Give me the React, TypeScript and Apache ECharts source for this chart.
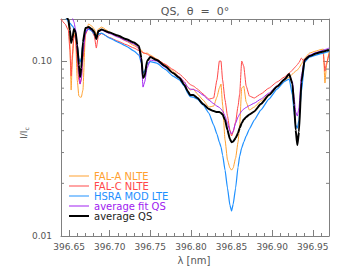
import React, { useEffect, useRef } from "react";
import * as echarts from "echarts";

const wavelength = [
  396.640, 396.645, 396.649, 396.651, 396.6525, 396.654, 396.656, 396.658, 396.660, 396.662,
  396.6635, 396.665, 396.667, 396.670, 396.674, 396.678, 396.681, 396.6835, 396.686, 396.690,
  396.700, 396.710, 396.720, 396.730, 396.736, 396.739, 396.741, 396.743, 396.746, 396.750,
  396.758, 396.768, 396.778, 396.786, 396.792, 396.796, 396.799, 396.803, 396.808, 396.815,
  396.822, 396.828, 396.832, 396.835, 396.837, 396.839, 396.842, 396.845, 396.848, 396.850,
  396.852, 396.855, 396.858, 396.860, 396.8625, 396.865, 396.868, 396.872, 396.878, 396.886,
  396.896, 396.906, 396.915, 396.921, 396.925, 396.927, 396.929, 396.931, 396.933, 396.936,
  396.940, 396.946, 396.954, 396.960, 396.963, 396.965, 396.967, 396.970,
];

const falA = [
  0.1956, 0.1856, 0.1715, 0.1234, 0.0683, 0.1013, 0.1465, 0.1318, 0.0779, 0.0631,
  0.0622, 0.0622, 0.0683, 0.1408, 0.163, 0.1585, 0.1524, 0.1408, 0.1524, 0.1564,
  0.1465, 0.138, 0.1301, 0.1226, 0.1179, 0.1156, 0.1111, 0.1104, 0.1111, 0.1082,
  0.1027, 0.0955, 0.0877, 0.081, 0.0759, 0.071, 0.0683, 0.0692, 0.0648, 0.0599,
  0.0546, 0.0553, 0.0622, 0.0701, 0.0739, 0.0561, 0.0354, 0.0272, 0.0245, 0.0238,
  0.0245, 0.0279, 0.0344, 0.0431, 0.0701, 0.072, 0.0583, 0.0525, 0.0546, 0.0591,
  0.0648, 0.071, 0.0774, 0.081, 0.0843, 0.086, 0.0877, 0.0888, 0.0912, 0.0961,
  0.104, 0.1111, 0.1141, 0.1164, 0.1171, 0.0749, 0.0949, 0.1126,
];

const falC = [
  0.1738, 0.163, 0.1504, 0.1156, 0.0821, 0.1082, 0.1408, 0.1353, 0.0987, 0.0779,
  0.0739, 0.0779, 0.1013, 0.1427, 0.1544, 0.1484, 0.139, 0.1187, 0.139, 0.1436,
  0.1362, 0.1301, 0.1242, 0.1187, 0.1148, 0.1133, 0.1118, 0.1111, 0.1096, 0.1068,
  0.102, 0.0961, 0.0894, 0.0843, 0.0795, 0.0759, 0.0734, 0.072, 0.0692, 0.0648,
  0.0606, 0.0615, 0.0779, 0.1, 0.1, 0.0779, 0.0599, 0.0485, 0.0403, 0.0373,
  0.0393, 0.0448, 0.0553, 0.0648, 0.1, 0.0936, 0.072, 0.0631, 0.0615, 0.0648,
  0.0701, 0.0759, 0.081, 0.0854, 0.0888, 0.0912, 0.093, 0.0955, 0.098, 0.104,
  0.0987, 0.1068, 0.1104, 0.1141, 0.1096, 0.0877, 0.0974, 0.1096,
];

const hsra = [
  0.1905, 0.1784, 0.1692, 0.165, 0.1617, 0.1585, 0.1544, 0.1445, 0.1234, 0.104,
  0.0987, 0.104, 0.1267, 0.1484, 0.1524, 0.1484, 0.1427, 0.1371, 0.1427, 0.1445,
  0.1353, 0.1284, 0.1218, 0.1141, 0.1082, 0.0974, 0.0854, 0.0877, 0.0961, 0.0993,
  0.0974, 0.09, 0.0821, 0.0779, 0.072, 0.0656, 0.0627, 0.0622, 0.0606, 0.0561,
  0.0505, 0.0431, 0.0383, 0.0344, 0.0323, 0.029, 0.0238, 0.0188, 0.015, 0.0139,
  0.0152, 0.0188, 0.0248, 0.0286, 0.0319, 0.0344, 0.0373, 0.0409, 0.046, 0.0525,
  0.0606, 0.0692, 0.0764, 0.0789, 0.0639, 0.0511, 0.0431, 0.0414, 0.046, 0.0665,
  0.0987, 0.1054, 0.1082, 0.1104, 0.1111, 0.1118, 0.1126, 0.1133,
];

const fitQS = [
  0.209, 0.201, 0.1905, 0.1856, 0.181, 0.176, 0.167, 0.1504, 0.1156, 0.0865,
  0.0739, 0.08, 0.1126, 0.1445, 0.1544, 0.1504, 0.1445, 0.1336, 0.1465, 0.1504,
  0.1436, 0.1371, 0.1309, 0.1251, 0.1187, 0.0987, 0.071, 0.0759, 0.0912, 0.1013,
  0.1, 0.0924, 0.0854, 0.081, 0.0759, 0.071, 0.0692, 0.0688, 0.0674, 0.0639,
  0.0599, 0.0571, 0.0553, 0.0543, 0.0532, 0.0518, 0.0485, 0.0442, 0.0398, 0.0383,
  0.0398, 0.0442, 0.0479, 0.0498, 0.0518, 0.0532, 0.0543, 0.0557, 0.0575, 0.0606,
  0.0656, 0.072, 0.0789, 0.0832, 0.0759, 0.0622, 0.0511, 0.0485, 0.0539, 0.0821,
  0.1027, 0.1082, 0.1118, 0.1141, 0.1156, 0.1164, 0.1171, 0.1187,
];

const avgQS = [
  0.201, 0.188, 0.1715, 0.1504, 0.1267, 0.1353, 0.1524, 0.1465, 0.1234, 0.0949,
  0.081, 0.0912, 0.1284, 0.1544, 0.1564, 0.1524, 0.1465, 0.1336, 0.1484, 0.1514,
  0.1455, 0.14, 0.1336, 0.1276, 0.1218, 0.104, 0.08, 0.0821, 0.1, 0.1054,
  0.1013, 0.0936, 0.0854, 0.08, 0.0729, 0.0674, 0.0639, 0.0639, 0.0615, 0.0568,
  0.0532, 0.0518, 0.0511, 0.0511, 0.0505, 0.0495, 0.046, 0.0403, 0.0358, 0.0344,
  0.0347, 0.0363, 0.0388, 0.0414, 0.0442, 0.0463, 0.0479, 0.0495, 0.0515, 0.0568,
  0.0639, 0.0715, 0.0784, 0.0843, 0.0739, 0.0561, 0.0403, 0.0331, 0.0393, 0.0759,
  0.1013, 0.1068, 0.1104, 0.1126, 0.1133, 0.1141, 0.1148, 0.1156,
];

const seriesNames = ["FAL-A NLTE", "FAL-C NLTE", "HSRA MOD LTE", "average fit QS", "average QS"];

const xMajorTicks = [396.65, 396.7, 396.75, 396.8, 396.85, 396.9, 396.95];
const xMinorTicks = [
  396.66, 396.67, 396.68, 396.69, 396.71, 396.72, 396.73, 396.74, 396.76, 396.77,
  396.78, 396.79, 396.81, 396.82, 396.83, 396.84, 396.86, 396.87, 396.88, 396.89,
  396.91, 396.92, 396.93, 396.94, 396.96,
];
const yMinorTicks = [0.02, 0.03, 0.04, 0.05, 0.06, 0.07, 0.08, 0.09];

const X_MIN = 396.64;
const X_MAX = 396.97;
const Y_MIN = 0.01;
const Y_MAX = 0.174;

const COLORS = ["#FFA030", "#FF4848", "#1E90FF", "#A020F0", "#000000"];
const WIDTHS = [1, 1, 1.2, 1, 2];
const AXIS_COLOR = "#808080";
const TEXT_COLOR = "#555555";
const FONT = "DejaVu Sans";

export default function App() {
  const ref = useRef<HTMLDivElement>(null);

  useEffect(() => {
    if (!ref.current) return;
    const chart = echarts.init(ref.current, null, { renderer: "svg" });
    const values = [falA, falC, hsra, fitQS, avgQS];

    const xAxisBase = {
      type: "value" as const,
      min: X_MIN,
      max: X_MAX,
      splitLine: { show: false },
    };
    const yAxisBase = {
      type: "log" as const,
      logBase: 10,
      min: Y_MIN,
      max: Y_MAX,
      splitLine: { show: false },
      minorTick: { show: false },
    };

    chart.setOption({
      animation: false,
      grid: { left: 61, top: 19, width: 268, height: 217, containLabel: false },
      xAxis: [
        {
          ...xAxisBase,
          position: "bottom",
          axisLine: { show: true, lineStyle: { color: AXIS_COLOR, width: 1 } },
          axisTick: { show: true, inside: true, length: 6, customValues: xMajorTicks, lineStyle: { color: AXIS_COLOR } },
          axisLabel: {
            show: true,
            customValues: xMajorTicks,
            formatter: (v: number) => v.toFixed(2),
            fontSize: 9,
            color: TEXT_COLOR,
            fontFamily: FONT,
            margin: 6,
          },
        },
        {
          ...xAxisBase,
          position: "bottom",
          axisLine: { show: false },
          axisTick: { show: true, inside: true, length: 3, customValues: xMinorTicks, lineStyle: { color: AXIS_COLOR } },
          axisLabel: { show: false },
        },
        {
          ...xAxisBase,
          position: "top",
          axisLine: { show: true, lineStyle: { color: AXIS_COLOR, width: 1 } },
          axisTick: { show: true, inside: true, length: 6, customValues: xMajorTicks, lineStyle: { color: AXIS_COLOR } },
          axisLabel: { show: false },
        },
        {
          ...xAxisBase,
          position: "top",
          axisLine: { show: false },
          axisTick: { show: true, inside: true, length: 3, customValues: xMinorTicks, lineStyle: { color: AXIS_COLOR } },
          axisLabel: { show: false },
        },
      ],
      yAxis: [
        {
          ...yAxisBase,
          position: "left",
          axisLine: { show: true, lineStyle: { color: AXIS_COLOR, width: 1 } },
          axisTick: { show: true, inside: true, length: 6, lineStyle: { color: AXIS_COLOR } },
          axisLabel: {
            show: true,
            formatter: (v: number) => v.toFixed(2),
            fontSize: 9,
            color: TEXT_COLOR,
            fontFamily: FONT,
            margin: 9,
            showMaxLabel: false,
          },
        },
        {
          ...yAxisBase,
          position: "right",
          axisLine: { show: true, lineStyle: { color: AXIS_COLOR, width: 1 } },
          axisTick: { show: true, inside: true, length: 6, lineStyle: { color: AXIS_COLOR } },
          axisLabel: { show: false },
        },
      ],
      legend: {
        orient: "vertical",
        left: 69,
        top: 171,
        padding: 0,
        itemWidth: 20,
        itemHeight: 9.5,
        itemGap: 0,
        selectedMode: false,
        textStyle: { fontSize: 10, fontFamily: FONT },
        data: seriesNames.map((name, i) => ({
          name,
          icon: i === 4 ? "path://M0,0L20,0L20,2L0,2Z" : "path://M0,0L20,0L20,1L0,1Z",
          textStyle: { color: i === 4 ? "#222222" : COLORS[i] },
        })),
      },
      graphic: [
        {
          type: "text",
          x: 195,
          y: 11,
          style: {
            text: "QS,  θ  =  0°",
            fontSize: 11,
            fontFamily: FONT,
            fill: TEXT_COLOR,
            textAlign: "center",
            textVerticalAlign: "middle",
          },
        },
        {
          type: "text",
          x: 194,
          y: 260,
          style: {
            text: "λ [nm]",
            fontSize: 10,
            fontFamily: FONT,
            fill: TEXT_COLOR,
            textAlign: "center",
            textVerticalAlign: "middle",
          },
        },
        {
          type: "text",
          x: 24,
          y: 133,
          rotation: Math.PI / 2,
          style: {
            text: "I/I{c|c}",
            fontSize: 9,
            fontFamily: FONT,
            fill: TEXT_COLOR,
            textAlign: "center",
            textVerticalAlign: "middle",
            rich: {
              c: { fontSize: 6, fontFamily: FONT, fill: TEXT_COLOR, padding: [4, 0, 0, 0] },
            },
          },
        },
      ],
      series: [
        ...seriesNames.map((name, i) => ({
          name,
          type: "line",
          xAxisIndex: 0,
          yAxisIndex: 0,
          data: wavelength.map((w, k) => [w, values[i][k]]),
          symbol: "none",
          showSymbol: false,
          smooth: 0.15,
          smoothMonotone: "x",
          clip: true,
          color: COLORS[i],
          lineStyle: { color: COLORS[i], width: WIDTHS[i] },
          z: 2 + i,
        })),
        {
          name: "yMinorTicks",
          type: "custom",
          xAxisIndex: 0,
          yAxisIndex: 0,
          silent: true,
          clip: false,
          z: 10,
          data: yMinorTicks.map((v) => [X_MIN, v]),
          renderItem: (_params: any, api: any) => {
            const v = api.value(1);
            const a = api.coord([X_MIN, v]);
            const b = api.coord([X_MAX, v]);
            return {
              type: "group",
              children: [
                { type: "line", shape: { x1: a[0], y1: a[1], x2: a[0] + 3, y2: a[1] }, style: { stroke: AXIS_COLOR, lineWidth: 1 } },
                { type: "line", shape: { x1: b[0] - 3, y1: b[1], x2: b[0], y2: b[1] }, style: { stroke: AXIS_COLOR, lineWidth: 1 } },
              ],
            };
          },
        },
      ],
    });

    return () => chart.dispose();
  }, []);

  return (
    <div
      ref={ref}
      style={{ position: "fixed", left: 0, top: 0, width: 346, height: 275, background: "#ffffff" }}
    />
  );
}
